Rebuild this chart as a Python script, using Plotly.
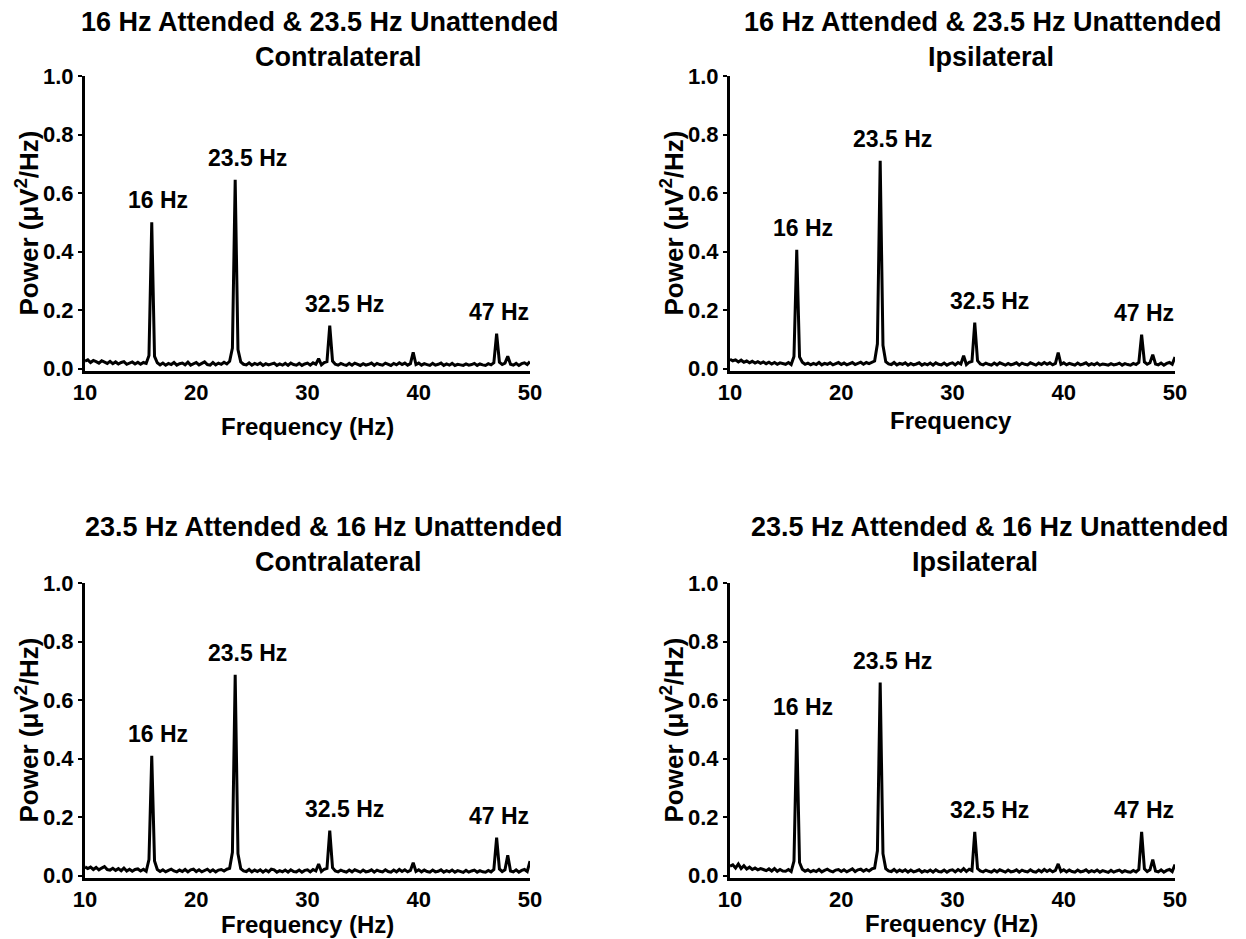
import plotly.graph_objects as go

# Frequency grid (Hz): 10.00 .. 50.00 in 0.25 Hz bins
FREQ_START = 10.0
FREQ_STEP = 0.25
N_BINS = 161
freqs = [FREQ_START + FREQ_STEP * i for i in range(N_BINS)]

# Power values in units of 0.001 uV^2/Hz, read (estimated) from the picture
power_att16_contra = [
    26, 30, 21, 28, 24, 19, 27, 22, 18, 25,
    17, 23, 16, 21, 24, 15, 20, 23, 16, 22,
    15, 21, 18, 45, 500, 42, 20, 13, 19, 12,
    18, 14, 21, 12, 17, 19, 13, 22, 12, 17,
    21, 13, 19, 23, 14, 12, 21, 13, 19, 15,
    22, 16, 25, 70, 645, 65, 23, 15, 13, 20,
    12, 18, 14, 19, 11, 17, 13, 15, 19, 11,
    16, 12, 18, 11, 19, 14, 12, 18, 11, 16,
    19, 12, 20, 15, 34, 13, 21, 24, 147, 26,
    15, 12, 18, 14, 11, 18, 12, 19, 14, 11,
    17, 12, 15, 19, 11, 18, 14, 12, 19, 14,
    11, 18, 13, 20, 14, 19, 12, 17, 56, 14,
    19, 12, 17, 14, 11, 18, 12, 15, 19, 11,
    16, 12, 18, 11, 15, 13, 11, 16, 12, 14,
    18, 11, 16, 13, 11, 17, 13, 20, 120, 22,
    14, 19, 42, 15, 12, 18, 11, 17, 20, 14,
    24,
]
power_att16_ipsi = [
    32, 27, 30, 23, 29, 22, 26, 20, 25, 19,
    24, 18, 23, 17, 22, 16, 21, 15, 20, 17,
    15, 21, 14, 42, 406, 40, 22, 15, 19, 13,
    18, 14, 21, 13, 18, 15, 20, 13, 18, 21,
    14, 19, 13, 18, 21, 14, 19, 22, 15, 21,
    17, 23, 26, 85, 710, 80, 24, 16, 14, 21,
    13, 18, 15, 20, 12, 18, 13, 16, 20, 12,
    17, 13, 19, 12, 20, 15, 13, 19, 12, 17,
    20, 13, 21, 16, 44, 14, 22, 25, 157, 27,
    16, 13, 19, 15, 12, 19, 13, 20, 15, 12,
    18, 13, 16, 20, 12, 19, 15, 13, 20, 15,
    12, 19, 14, 21, 15, 20, 13, 18, 55, 15,
    20, 13, 18, 15, 12, 19, 13, 16, 20, 12,
    17, 13, 19, 12, 16, 14, 12, 17, 13, 15,
    19, 12, 17, 14, 12, 18, 14, 21, 116, 23,
    15, 20, 48, 16, 13, 19, 12, 18, 21, 15,
    40,
]
power_att235_contra = [
    30, 24, 29, 21, 28, 20, 26, 31, 21, 19,
    25, 18, 24, 17, 26, 16, 22, 15, 21, 23,
    16, 22, 15, 55, 410, 50, 21, 14, 20, 13,
    18, 22, 16, 13, 19, 14, 21, 13, 20, 22,
    14, 20, 13, 18, 22, 14, 20, 13, 19, 21,
    16, 22, 25, 80, 686, 75, 24, 16, 14, 21,
    13, 19, 14, 20, 12, 19, 13, 22, 20, 12,
    17, 13, 19, 12, 20, 14, 13, 19, 12, 18,
    20, 13, 21, 16, 40, 14, 22, 25, 154, 27,
    16, 13, 19, 15, 12, 19, 13, 20, 15, 12,
    19, 13, 15, 20, 12, 19, 15, 13, 20, 14,
    12, 19, 13, 21, 14, 20, 13, 18, 44, 14,
    20, 13, 19, 14, 12, 19, 13, 15, 20, 12,
    17, 13, 19, 12, 17, 14, 11, 18, 12, 16,
    19, 12, 17, 13, 12, 18, 13, 21, 130, 23,
    14, 20, 70, 16, 13, 20, 12, 18, 21, 14,
    50,
]
power_att235_ipsi = [
    32, 37, 26, 40, 24, 34, 23, 29, 21, 26,
    20, 24, 21, 17, 23, 16, 24, 15, 21, 16,
    15, 21, 14, 50, 500, 45, 22, 15, 20, 13,
    18, 14, 21, 13, 18, 22, 16, 13, 19, 21,
    14, 20, 13, 18, 23, 14, 20, 22, 15, 21,
    16, 23, 26, 85, 660, 75, 24, 16, 14, 21,
    13, 19, 14, 20, 12, 19, 13, 16, 20, 12,
    17, 13, 19, 12, 20, 14, 13, 19, 12, 18,
    20, 13, 21, 15, 24, 14, 22, 17, 150, 24,
    16, 13, 19, 15, 12, 19, 13, 20, 15, 12,
    19, 13, 15, 20, 12, 19, 15, 13, 20, 14,
    12, 19, 13, 21, 14, 20, 13, 18, 40, 14,
    20, 13, 19, 14, 12, 19, 13, 15, 20, 12,
    17, 13, 19, 12, 17, 14, 11, 18, 12, 16,
    19, 12, 17, 13, 12, 18, 13, 21, 150, 23,
    14, 20, 55, 16, 13, 20, 12, 18, 21, 14,
    38,
]

panel_titles = [
    ("16 Hz Attended & 23.5 Hz Unattended", "Contralateral"),
    ("16 Hz Attended & 23.5 Hz Unattended", "Ipsilateral"),
    ("23.5 Hz Attended & 16 Hz Unattended", "Contralateral"),
    ("23.5 Hz Attended & 16 Hz Unattended", "Ipsilateral"),
]
x_titles = ["Frequency (Hz)", "Frequency", "Frequency (Hz)", "Frequency (Hz)"]
y_title = "Power (μV<sup>2</sup>/Hz)"
peak_labels = ["16 Hz", "23.5 Hz", "32.5 Hz", "47 Hz"]
peak_label_freqs = [16.0, 23.5, 32.0, 47.0]
x_ticks = [10, 20, 30, 40, 50]
y_ticks = [0.0, 0.2, 0.4, 0.6, 0.8, 1.0]
series = [power_att16_contra, power_att16_ipsi, power_att235_contra, power_att235_ipsi]

# ---- layout geometry (pixels in a 1246 x 939 page) ----
W, H = 1246, 939
Y_MIN = -0.008
x_dom_px = [(85, 530), (730, 1175), (85, 530), (730, 1175)]
y_dom_px = [(371, 76), (371, 76), (878, 583), (878, 583)]
title1_px = [(320, 22), (983, 22), (324, 527), (990, 527)]
title2_px = [(338, 57), (991, 57), (339, 562), (975, 562)]
xtitle_px = [(307, 427), (951, 420), (307, 924), (951, 923)]
label_xshift = [6, 12, 15, 2]

FONT = "Liberation Sans, Arial, sans-serif"
fig = go.Figure()
annotations = []

for k in range(4):
    sfx = "" if k == 0 else str(k + 1)
    xa, ya = "x" + sfx, "y" + sfx
    vals = [v / 1000.0 for v in series[k]]
    fig.add_trace(go.Scatter(
        x=freqs, y=vals, mode="lines", xaxis=xa, yaxis=ya,
        line=dict(color="black", width=3), showlegend=False,
        hoverinfo="skip",
    ))
    xd = [x_dom_px[k][0] / W, x_dom_px[k][1] / W]
    yd = [1 - y_dom_px[k][0] / H, 1 - y_dom_px[k][1] / H]
    fig.update_layout({
        "xaxis" + sfx: dict(
            domain=xd, range=[10, 50], anchor=ya, tickvals=x_ticks,
            ticktext=[str(t) for t in x_ticks], showgrid=False, zeroline=False,
            showline=True, linecolor="black", linewidth=3, ticks="",
            automargin=False, fixedrange=True,
            tickfont=dict(family=FONT, size=22, color="black", weight="bold"),
        ),
        "yaxis" + sfx: dict(
            domain=yd, range=[Y_MIN, 1.0], anchor=xa, tickvals=y_ticks,
            ticktext=["%.1f" % t for t in y_ticks], showgrid=False, zeroline=False,
            showline=True, linecolor="black", linewidth=3, ticks="outside",
            ticklen=4, tickwidth=2, tickcolor="black", automargin=False,
            fixedrange=True,
            tickfont=dict(family=FONT, size=22, color="black", weight="bold"),
        ),
    })
    # titles
    for (txt, pos) in ((panel_titles[k][0], title1_px[k]), (panel_titles[k][1], title2_px[k])):
        annotations.append(dict(
            text="<b>" + txt + "</b>", x=pos[0] / W, y=1 - pos[1] / H,
            xref="paper", yref="paper", xanchor="center", yanchor="middle",
            showarrow=False, font=dict(family=FONT, size=27, color="black"),
        ))
    # x title
    annotations.append(dict(
        text="<b>" + x_titles[k] + "</b>", x=xtitle_px[k][0] / W, y=1 - xtitle_px[k][1] / H,
        xref="paper", yref="paper", xanchor="center", yanchor="middle",
        showarrow=False, font=dict(family=FONT, size=24, color="black"),
    ))
    # y title
    annotations.append(dict(
        text="<b>" + y_title + "</b>", x=(28 + x_dom_px[k][0] - 85) / W,
        y=(yd[0] + yd[1]) / 2, xref="paper", yref="paper", textangle=-90,
        xanchor="center", yanchor="middle", showarrow=False,
        font=dict(family=FONT, size=26, color="black"),
    ))
    # peak labels
    for j, lab in enumerate(peak_labels):
        f = peak_label_freqs[j]
        idx = freqs.index(f)
        annotations.append(dict(
            text="<b>" + lab + "</b>", x=f, y=vals[idx], xref=xa, yref=ya,
            xanchor="center", yanchor="bottom", xshift=label_xshift[j], yshift=7,
            showarrow=False, font=dict(family=FONT, size=23, color="black"),
        ))

fig.update_layout(
    template="none",
    width=W, height=H, margin=dict(l=0, r=0, t=0, b=0, pad=0),
    paper_bgcolor="white", plot_bgcolor="white",
    annotations=annotations, showlegend=False, hovermode=False,
)
fig.write_html(
    "out.html",
    config={"displayModeBar": False, "staticPlot": True},
    post_script="document.body.style.margin='0px';document.body.style.overflow='hidden';",
)
